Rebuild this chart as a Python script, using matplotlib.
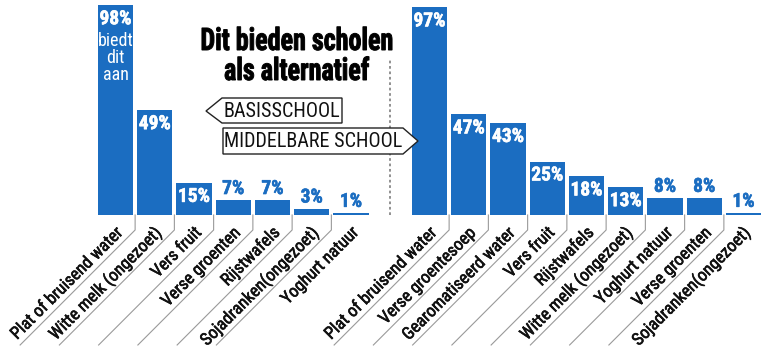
import matplotlib
matplotlib.use("Agg")
import matplotlib.pyplot as plt
import matplotlib.patheffects as pe
from matplotlib import font_manager
from matplotlib.font_manager import FontProperties
from matplotlib.patches import Polygon, PathPatch
from matplotlib.textpath import TextPath
from matplotlib.transforms import Affine2D, IdentityTransform

# Gegevens: wat scholen als alternatief aanbieden (% van scholen)
basis_labels = ["Plat of bruisend water", "Witte melk (ongezoet)", "Vers fruit",
                "Verse groenten", "Rijstwafels", "Sojadranken(ongezoet)", "Yoghurt natuur"]
basis_values = [98, 49, 15, 7, 7, 3, 1]

middel_labels = ["Plat of bruisend water", "Verse groentesoep", "Gearomatiseerd water",
                 "Vers fruit", "Rijstwafels", "Witte melk (ongezoet)", "Yoghurt natuur",
                 "Verse groenten", "Sojadranken(ongezoet)"]
middel_values = [97, 47, 43, 25, 18, 13, 8, 8, 1]

title_lines = ["Dit bieden scholen", "als alternatief"]
legend_basis = "BASISSCHOOL"
legend_middel = "MIDDELBARE SCHOOL"
extra_note = "biedt\ndit\naan"

BLUE = "#1b6dc1"
GREY = "#9a9a9a"

# smal lettertype zoeken, anders terugvallen op DejaVu
names = {f.name for f in font_manager.fontManager.ttflist}
narrow = "DejaVu Sans"
for cand in ["Roboto Condensed", "Liberation Sans Narrow", "Noto Sans Condensed",
             "DejaVu Sans Condensed", "Open Sans Condensed"]:
    if cand in names:
        narrow = cand
        break
plt.rcParams["font.family"] = [narrow, "DejaVu Sans"]
plt.rcParams["font.stretch"] = "condensed"

W, H = 767, 354
PX_X = 39.25     # pixels per staaf
PX_Y = 2.14      # pixels per procent
X0 = 115.5       # pixel van het midden van de eerste staaf
BASE = 215       # pixel (van boven) van de basislijn

fig = plt.figure(figsize=(W / 100, H / 100), dpi=100)
ax = fig.add_axes([0, 0, 1, 1])
ax.set_xlim(-X0 / PX_X, (W - X0) / PX_X)
ax.set_ylim(-(H - BASE) / PX_Y, BASE / PX_Y)
ax.axis("off")

basis_x = list(range(len(basis_values)))
middel_x = [len(basis_values) + 1 + i for i in range(len(middel_values))]


def draw_group(xs, values, labels):
    ax.bar(xs, values, width=0.9, color=BLUE, zorder=2)
    for x, v in zip(xs, values):
        inside = v >= 10
        col = "white" if inside else BLUE
        ax.annotate(f"{v}%", (x, v), xytext=(0, -5 if inside else 2),
                    textcoords="offset pixels", ha="center",
                    va="top" if inside else "bottom", color=col, fontsize=14,
                    fontweight="bold", zorder=3,
                    path_effects=[pe.withStroke(linewidth=0.4, foreground=col)])
    # schuine scheidingslijnen en labels
    for k, (x, lab) in enumerate(zip(xs, labels)):
        gap = x + 0.5
        if k < len(xs) - 1:
            ax.plot([gap, gap, gap - 115 / PX_X],
                    [0, -15 / PX_Y, -130 / PX_Y],
                    color=GREY, lw=0.8, zorder=1)
        ax.text(gap - 11 / PX_X, -18 / PX_Y, lab, rotation=45,
                rotation_mode="anchor", ha="right", va="baseline",
                fontsize=12.5, color="#111111",
                path_effects=[pe.withStroke(linewidth=0.45, foreground="#111111")])


draw_group(basis_x, basis_values, basis_labels)
draw_group(middel_x, middel_values, middel_labels)

# extra tekst in de eerste staaf
ax.annotate(extra_note, (basis_x[0], basis_values[0]), xytext=(0, -27),
            textcoords="offset pixels", ha="center", va="top", color="white",
            fontsize=13, linespacing=0.92, zorder=3)

# gestippelde scheidingslijn tussen de groepen
ax.plot([7, 7], [0, (BASE - 58) / PX_Y], color="#888888", lw=1.3,
        linestyle=(0, (1.5, 1.5)), zorder=1)


def px(x, y):
    return (x / W, 1 - y / H)


# titel: smalle, zware letters (horizontaal samengedrukt)
title_fp = FontProperties(family=[narrow], weight="bold")
for line, base_y in zip(title_lines, [50, 80]):
    tp = TextPath((0, 0), line, size=31, prop=title_fp)
    bb = tp.get_extents()
    sx = 0.84
    tr = Affine2D().scale(sx, 1).translate(297 - (bb.x0 + bb.width / 2) * sx, H - base_y)
    ax.add_patch(PathPatch(tr.transform_path(tp), transform=IdentityTransform(),
                           facecolor="black", edgecolor="black", lw=0.7,
                           clip_on=False, zorder=5))

# legenda-pijlen
basis_box = [px(206, 111), px(222, 98), px(342, 98), px(342, 123), px(222, 123)]
middel_box = [px(223, 128), px(403, 128), px(418, 141), px(403, 154), px(223, 154)]
for pts, lab, cx, cy in [(basis_box, legend_basis, 282, 111),
                         (middel_box, legend_middel, 313, 141)]:
    ax.add_patch(Polygon(pts, closed=True, transform=ax.transAxes,
                         facecolor="white", edgecolor="#222222", lw=1.0, zorder=4))
    ax.text(*px(cx, cy), lab, transform=ax.transAxes, ha="center", va="center",
            fontsize=14.5, color="#111111", zorder=5)

fig.savefig("out.png", dpi=100)
